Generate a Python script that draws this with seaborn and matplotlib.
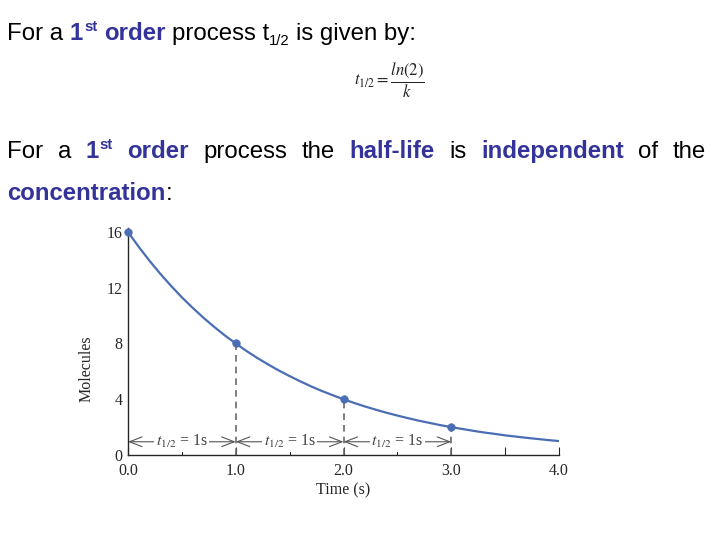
import numpy as np
import pandas as pd
import seaborn as sns
import matplotlib.pyplot as plt

# curve (molecules vs time)
time_s = [0.0, 0.1, 0.2, 0.3, 0.4, 0.5, 0.6, 0.7, 0.8, 0.9, 1.0,
          1.1, 1.2, 1.3, 1.4, 1.5, 1.6, 1.7, 1.8, 1.9, 2.0,
          2.1, 2.2, 2.3, 2.4, 2.5, 2.6, 2.7, 2.8, 2.9, 3.0,
          3.1, 3.2, 3.3, 3.4, 3.5, 3.6, 3.7, 3.8, 3.9, 4.0]
molecules = [16.0, 14.93, 13.93, 13.0, 12.13, 11.31, 10.56, 9.85, 9.19, 8.57, 8.0,
             7.46, 6.96, 6.5, 6.06, 5.66, 5.28, 4.92, 4.59, 4.29, 4.0,
             3.73, 3.48, 3.25, 3.03, 2.83, 2.64, 2.46, 2.30, 2.14, 2.0,
             1.87, 1.74, 1.62, 1.52, 1.41, 1.32, 1.23, 1.15, 1.07, 1.0]
# marked half-life points
hl_time = [0.0, 1.0, 2.0, 3.0]
hl_molecules = [16.0, 8.0, 4.0, 2.0]
x_ticks = [0.0, 1.0, 2.0, 3.0, 4.0]
y_ticks = [0, 4, 8, 12, 16]

sns.set_style('ticks')
plt.rcParams['font.family'] = ['Liberation Sans', 'DejaVu Sans']
plt.rcParams['mathtext.fontset'] = 'stix'

BLUE_TXT = '#333399'
LINE = '#4a6db3'
W, H = 720, 540

fig = plt.figure(figsize=(7.2, 5.4), dpi=100)
renderer = fig.canvas.get_renderer()


def put(txt, x, y, **kw):
    t = fig.text(x / W, 1 - y / H, txt, va='baseline', ha='left', **kw)
    return t, t.get_window_extent(renderer).width


def chain(pieces, x, y):
    # pieces: (text, kwargs, gap_before_px, raise_px)
    for txt, kw, gap, dy in pieces:
        x += gap
        _, w = put(txt, x, y - dy, **kw)
        x += w
    return x


FS = 17.3
norm = dict(fontsize=FS, color='black')
bold = dict(fontsize=FS, color=BLUE_TXT, fontweight='bold')
small_b = dict(fontsize=FS * 0.62, color=BLUE_TXT, fontweight='bold')
small_n = dict(fontsize=FS * 0.62, color='black')
sp = 6.6

# line 1
chain([('For a', norm, 0, 0), ('1', bold, sp, 0), ('st', small_b, 1, 9),
       ('order', bold, sp, 0), ('process t', norm, sp, 0),
       ('1/2', small_n, 0, -5), ('is given by:', norm, sp, 0)], 7, 40)

# formula
fig.text(389 / W, 1 - 80 / H, r'$t_{1/2}=\dfrac{ln(2)}{k}$',
         ha='center', va='center', fontsize=12, color='#222222')

# line 2 (justified)
words = [[('For', norm, 0)], [('a', norm, 0)],
         [('1', bold, 0), ('st', small_b, 9)], [('order', bold, 0)],
         [('process', norm, 0)], [('the', norm, 0)], [('half-life', bold, 0)],
         [('is', norm, 0)], [('independent', bold, 0)], [('of', norm, 0)],
         [('the', norm, 0)]]
widths = []
for wd in words:
    tot = 0
    for txt, kw, dy in wd:
        t, w = put(txt, 0, 0, **kw)
        t.remove()
        tot += w + (1 if dy else 0)
    widths.append(tot)
gap = (706 - 7 - sum(widths)) / (len(words) - 1)
x = 7
for wd, wdt in zip(words, widths):
    chain([(txt, kw, 1 if dy else 0, dy) for txt, kw, dy in wd], x, 158)
    x += wdt + gap

chain([('concentration', bold, 0, 0), (':', norm, 0, 0)], 7, 200)

# chart
ax = fig.add_axes([128 / W, 85 / H, 431 / W, 227.2 / H])
df = pd.DataFrame({'time': time_s, 'molecules': molecules})
sns.lineplot(data=df, x='time', y='molecules', ax=ax, color=LINE, lw=1.6)
sns.scatterplot(x=hl_time, y=hl_molecules, ax=ax, color=LINE, s=30,
                edgecolor=LINE, zorder=5, clip_on=False)

for t, m in zip(hl_time[1:], hl_molecules[1:]):
    ax.plot([t, t], [0, m], color='#6a6a6a', lw=1.2, ls=(0, (4, 3)), zorder=1)

arrow_y = 0.95
for a, b in zip(hl_time[:-1], hl_time[1:]):
    ax.annotate('', xy=(b, arrow_y), xytext=(a, arrow_y),
                arrowprops=dict(arrowstyle='<->,head_length=0.9,head_width=0.35',
                                color='#555555', lw=0.8, shrinkA=0, shrinkB=0))
    ax.text((a + b) / 2, arrow_y, r'$t_{1/2}$ = 1s', ha='center', va='center',
            fontsize=11.5, color='#444444', family='Liberation Serif',
            bbox=dict(facecolor='white', edgecolor='none', pad=1.0))

ax.set_xlim(0, 4)
ax.set_ylim(0, 16.3)
ax.set_xticks(x_ticks)
ax.set_xticklabels([f'{v:.1f}' for v in x_ticks])
ax.set_xticks([0.5, 1.5, 2.5, 3.5], minor=True)
ax.set_yticks(y_ticks)
ax.tick_params(axis='x', which='both', direction='in', length=6, width=0.8,
               labelsize=11.5, pad=6)
ax.tick_params(axis='y', length=0, labelsize=11.5, pad=4)
for lab in ax.get_xticklabels() + ax.get_yticklabels():
    lab.set_family('Liberation Serif')
sns.despine(ax=ax)
ax.spines['left'].set_linewidth(1.0)
ax.spines['bottom'].set_linewidth(1.0)

ax.set_xlabel('Time (s)', family='Liberation Serif', fontsize=11.5)
ax.set_ylabel('Molecules', family='Liberation Serif', fontsize=11.5)
ax.xaxis.set_label_coords(0.5, -0.119)
ax.yaxis.set_label_coords(-0.077, 0.38)

fig.savefig('out.png', dpi=100)
